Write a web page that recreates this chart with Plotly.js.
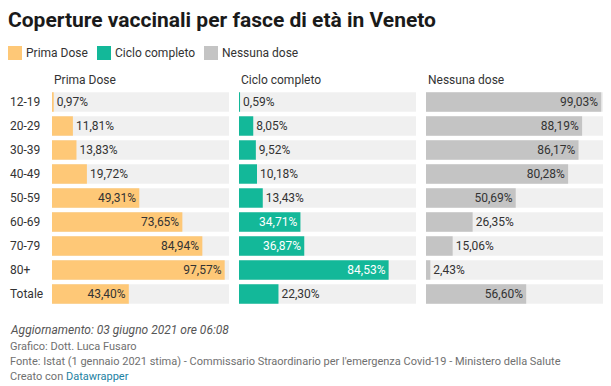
<!DOCTYPE html>
<html>
<head>
<meta charset="utf-8">
<script src="https://cdn.plot.ly/plotly-3.0.1.min.js"></script>
<style>html,body{margin:0;padding:0;background:#fff;}#chart{width:611px;height:386px;}</style>
</head>
<body>
<div id="chart"></div>
<script>
const categories = ['12-19','20-29','30-39','40-49','50-59','60-69','70-79','80+','Totale'];
const primaDose = [0.97,11.81,13.83,19.72,49.31,73.65,84.94,97.57,43.40];
const cicloCompleto = [0.59,8.05,9.52,10.18,13.43,34.71,36.87,84.53,22.30];
const nessunaDose = [99.03,88.19,86.17,80.28,50.69,26.35,15.06,2.43,56.60];
const seriesNames = ['Prima Dose','Ciclo completo','Nessuna dose'];
const seriesColors = ['#fec877','#13b899','#c4c4c4'];
const insideTextColors = ['#333333','#ffffff','#333333'];
const trackColor = '#f0f0f0';
const fullScale = 100;

const W = 611, H = 386;
const M = {l: 52, r: 8, t: 90, b: 80};
const PW = W - M.l - M.r, PH = H - M.t - M.b;
const px2x = x => (x - M.l) / PW;
const px2y = y => (H - M.b - y) / PH;

const panelPx = [[52,229],[239,416],[426,603]];
const domains = panelPx.map(p => [px2x(p[0]), px2x(p[1])]);
const fmt = v => v.toFixed(2).replace('.', ',') + '%';

const allSeries = [primaDose, cicloCompleto, nessunaDose];
const traces = [];
allSeries.forEach((vals, i) => {
  const xa = i === 0 ? 'x' : 'x' + (i + 1);
  traces.push({
    type: 'bar', orientation: 'h', xaxis: xa, yaxis: 'y',
    y: categories, x: categories.map(() => fullScale),
    marker: {color: trackColor}, hoverinfo: 'skip', showlegend: false
  });
  traces.push({
    type: 'bar', orientation: 'h', xaxis: xa, yaxis: 'y',
    y: categories, x: vals, name: seriesNames[i],
    marker: {color: seriesColors[i]},
    text: vals.map(fmt),
    textposition: vals.map(v => v >= 30 ? 'inside' : 'outside'),
    insidetextanchor: 'end',
    constraintext: 'none',
    cliponaxis: false,
    insidetextfont: {family: 'Roboto', size: 12, color: insideTextColors[i]},
    outsidetextfont: {family: 'Roboto', size: 12, color: '#333333'},
    hoverinfo: 'skip', showlegend: false
  });
});

const annotations = [];
const shapes = [];
const txt = '#333333';
// column headers
seriesNames.forEach((n, i) => {
  annotations.push({xref: 'paper', yref: 'paper', x: px2x(panelPx[i][0]), y: px2y(80),
    xanchor: 'left', yanchor: 'middle', text: n, showarrow: false,
    font: {family: 'Roboto', size: 12, color: txt}});
});
// row labels
categories.forEach(c => {
  annotations.push({xref: 'paper', yref: 'y', x: px2x(8), y: c, xanchor: 'left', yanchor: 'middle',
    text: c, showarrow: false, font: {family: 'Roboto', size: 12, color: txt}});
});
// legend
const legendX = [8, 97, 204];
seriesNames.forEach((n, i) => {
  shapes.push({type: 'rect', xref: 'paper', yref: 'paper', x0: px2x(legendX[i]), x1: px2x(legendX[i] + 14),
    y0: px2y(60), y1: px2y(46), fillcolor: seriesColors[i], line: {width: 0}});
  annotations.push({xref: 'paper', yref: 'paper', x: px2x(legendX[i] + 16), y: px2y(53),
    xanchor: 'left', yanchor: 'middle', text: n, showarrow: false,
    font: {family: 'Roboto', size: 12, color: txt}});
});
// footer
annotations.push({xref: 'paper', yref: 'paper', x: px2x(8), y: px2y(330), xanchor: 'left', yanchor: 'middle',
  text: '<i>Aggiornamento: 03 giugno 2021 ore 06:08</i>', showarrow: false,
  font: {family: 'Roboto', size: 12, color: '#555555'}});
const footLines = [
  ['Grafico: Dott. Luca Fusaro', 346],
  ["Fonte: Istat (1 gennaio 2021 stima) - Commissario Straordinario per l'emergenza Covid-19 - Ministero della Salute", 361],
  ['Creato con <span style="color:#1d81a2">Datawrapper</span>', 376]
];
footLines.forEach(([t, y]) => {
  annotations.push({xref: 'paper', yref: 'paper', x: px2x(8), y: px2y(y), xanchor: 'left', yanchor: 'middle',
    text: t, showarrow: false, font: {family: 'Roboto', size: 11, color: '#707070'}});
});

const axBase = {range: [0, fullScale], visible: false, fixedrange: true, anchor: 'y'};
const layout = {
  width: W, height: H,
  margin: M,
  paper_bgcolor: '#ffffff', plot_bgcolor: '#ffffff',
  barmode: 'overlay', bargap: 0.19,
  showlegend: false,
  title: {text: '<b>Coperture vaccinali per fasce di età in Veneto</b>', xref: 'container', yref: 'container',
    x: 8 / W, xanchor: 'left', y: 1 - 20 / H, yanchor: 'middle',
    font: {family: 'Roboto', size: 21, color: '#1a1a1a'}},
  xaxis: Object.assign({}, axBase, {domain: domains[0]}),
  xaxis2: Object.assign({}, axBase, {domain: domains[1]}),
  xaxis3: Object.assign({}, axBase, {domain: domains[2]}),
  yaxis: {type: 'category', autorange: 'reversed', showticklabels: false, showgrid: false,
    zeroline: false, fixedrange: true, anchor: 'x'},
  annotations: annotations,
  shapes: shapes,
  font: {family: 'Roboto', color: txt}
};
Plotly.newPlot('chart', traces, layout, {displayModeBar: false, staticPlot: true});
</script>
</body>
</html>
